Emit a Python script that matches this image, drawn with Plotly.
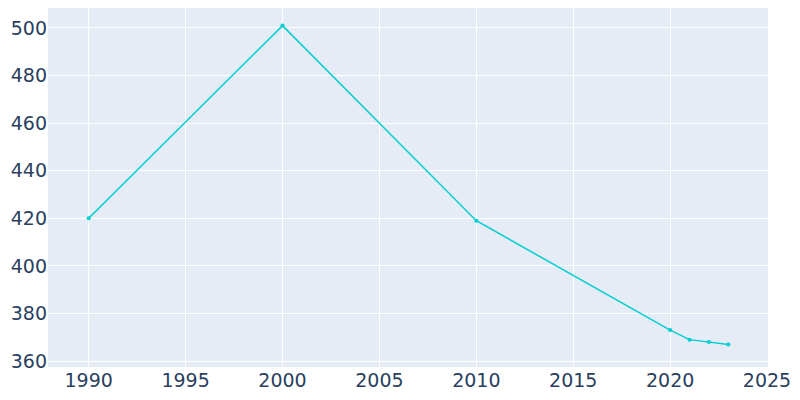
import plotly.graph_objects as go

years = [1990, 2000, 2010, 2020, 2021, 2022, 2023]
population = [420, 501, 419, 373, 369, 368, 367]

fig = go.Figure(go.Scatter(
    x=years, y=population, mode="lines+markers",
    line=dict(color="#00ced1", width=1.5),
    marker=dict(size=4),
))

fig.update_layout(
    width=800, height=400,
    margin=dict(l=40, r=40, t=0, b=41, autoexpand=False),
    font=dict(family="DejaVu Sans", size=19, color="#2a3f5f"),
    plot_bgcolor="#e5ecf6",
    paper_bgcolor="white",
    showlegend=False,
)
fig.update_xaxes(range=[1987.9, 2025.05], dtick=5, gridcolor="white", zeroline=False)
fig.update_yaxes(range=[357.5, 508.4], dtick=20, gridcolor="white", zeroline=False)

fig.write_html("out.html")
